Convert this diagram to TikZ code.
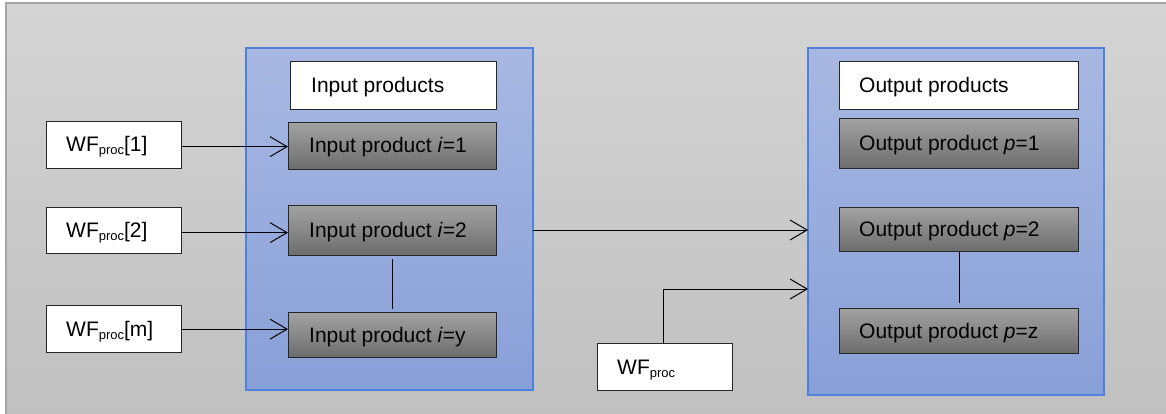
\documentclass[tikz,border=0pt]{standalone}
\usepackage{fontspec}
\setmainfont{Liberation Sans}
\usetikzlibrary{arrows.meta}
\definecolor{bgtop}{HTML}{D4D4D4}
\definecolor{bgbot}{HTML}{C0C0C0}
\definecolor{bgline}{HTML}{A6A6A6}
\definecolor{bltop}{HTML}{A8B8E2}
\definecolor{blbot}{HTML}{88A0D8}
\definecolor{blline}{HTML}{4F80DA}
\definecolor{dktop}{HTML}{A2A2A2}
\definecolor{dkbot}{HTML}{6C6C6C}
\newcommand{\wfp}{WF\raisebox{-3pt}{\fontsize{13}{13}\selectfont proc}}
\begin{document}
\begin{tikzpicture}[x=1pt,y=-1pt,
  font=\fontsize{21}{25}\selectfont,
  container/.style={draw=blline,line width=1.2pt,top color=bltop,bottom color=blbot},
  whitebox/.style={draw=black!85,line width=1.3pt,fill=white},
  darkbox/.style={draw=black!85,line width=1.3pt,top color=dktop,bottom color=dkbot},
  lbl/.style={anchor=base west,inner sep=0pt},
  conn/.style={draw=black,line width=1pt},
  arr/.style={conn,-{Straight Barb[length=17pt,width=20pt,line width=1pt]}}]
\useasboundingbox (0,0) rectangle (1166,414);
% background
\fill[top color=bgtop,bottom color=bgbot] (6,3) rectangle (1170,418);
\draw[bgline,line width=1.5pt] (6,418) -- (6,3) -- (1170,3);
% containers
\path[container] (246,48) rectangle (533,390);
\path[container] (808,48) rectangle (1104,395);
% left container boxes
\node[whitebox,minimum width=206pt,minimum height=48pt,anchor=north west,inner sep=0pt] (inhead) at (290,61) {};
\node[darkbox,minimum width=208pt,minimum height=47pt,anchor=north west,inner sep=0pt] (in1) at (288,122) {};
\node[darkbox,minimum width=208pt,minimum height=50pt,anchor=north west,inner sep=0pt] (in2) at (288,205) {};
\node[darkbox,minimum width=208pt,minimum height=45pt,anchor=north west,inner sep=0pt] (iny) at (288,312) {};
\node[lbl] at (311,92.5) {Input products};
\node[lbl] at (309,153) {Input product \textit{i}=1};
\node[lbl] at (309,237.5) {Input product \textit{i}=2};
\node[lbl] at (309,342) {Input product \textit{i}=y};
% right container boxes
\node[whitebox,minimum width=239pt,minimum height=48pt,anchor=north west,inner sep=0pt] (outhead) at (839,61) {};
\node[darkbox,minimum width=239pt,minimum height=50pt,anchor=north west,inner sep=0pt] (out1) at (839,118) {};
\node[darkbox,minimum width=239pt,minimum height=44pt,anchor=north west,inner sep=0pt] (out2) at (839,207) {};
\node[darkbox,minimum width=239pt,minimum height=45pt,anchor=north west,inner sep=0pt] (outz) at (839,308) {};
\node[lbl] at (859,92.5) {Output products};
\node[lbl] at (859,150.5) {Output product \textit{p}=1};
\node[lbl] at (859,236.5) {Output product \textit{p}=2};
\node[lbl] at (859,338) {Output product \textit{p}=z};
% WF boxes
\node[whitebox,minimum width=135pt,minimum height=47pt,anchor=north west,inner sep=0pt] (wf1) at (45.5,121) {};
\node[whitebox,minimum width=135pt,minimum height=46pt,anchor=north west,inner sep=0pt] (wf2) at (45.5,207) {};
\node[whitebox,minimum width=135pt,minimum height=47pt,anchor=north west,inner sep=0pt] (wfm) at (45.5,305) {};
\node[whitebox,minimum width=135pt,minimum height=47pt,anchor=north west,inner sep=0pt] (wfp) at (597,343) {};
\node[lbl] at (66,152) {\wfp[1]};
\node[lbl] at (66,237) {\wfp[2]};
\node[lbl] at (66,336) {\wfp[m]};
\node[lbl] at (617,374) {\wfp};
% connectors
\coordinate (inR) at (533,230);
\coordinate (outL1) at (808,230);
\coordinate (outL2) at (808,289);
\draw[arr] ([yshift=-1.5pt]wf1.east) -- ([yshift=-1.5pt]wf1.east -| in1.west);
\draw[arr] ([yshift=-2pt]wf2.east) -- ([yshift=-2pt]wf2.east -| in2.west);
\draw[arr] (wfm.east) -- (wfm.east -| iny.west);
\draw[conn] ([yshift=-3pt]in2.south) -- ([yshift=3pt]iny.north);
\draw[conn] (out2.south) -- ([yshift=5pt]outz.north);
\draw[arr] (inR) -- (outL1);
\draw[arr] (wfp.north -| 663,0) |- (outL2);
\end{tikzpicture}
\end{document}
